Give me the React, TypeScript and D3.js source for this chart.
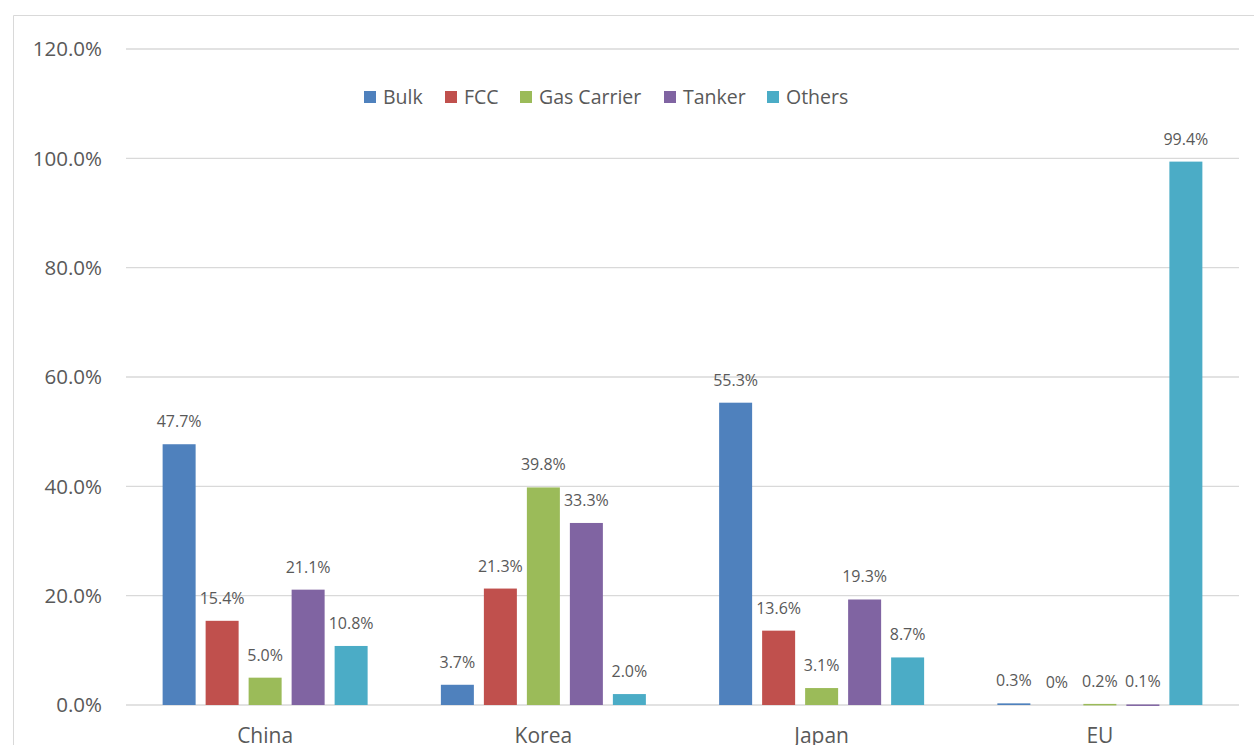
import React from "react";
import * as d3 from "d3";

const categories = ["China", "Korea", "Japan", "EU"];
const seriesNames = ["Bulk", "FCC", "Gas Carrier", "Tanker", "Others"];
const bulk = [47.7, 3.7, 55.3, 0.3];
const fcc = [15.4, 21.3, 13.6, 0];
const gasCarrier = [5.0, 39.8, 3.1, 0.2];
const tanker = [21.1, 33.3, 19.3, 0.1];
const others = [10.8, 2.0, 8.7, 99.4];
const seriesValues = [bulk, fcc, gasCarrier, tanker, others];
const colors = ["#4F81BD", "#C0504D", "#9BBB59", "#8064A2", "#4BACC6"];
const yTicks = [0, 20, 40, 60, 80, 100, 120];

const W = 1254;
const H = 745;
const FONT = "'Open Sans', 'Noto Sans', sans-serif";
const TEXT = "#595959";

export default function App() {
  const left = 126, right = 1239, top = 49, bottom = 705;
  const x = d3.scaleBand<string>().domain(categories).range([left, right]);
  const y = d3.scaleLinear().domain([0, 120]).range([bottom, top]);
  const bw = 33;
  const step = 43;
  const fmt = (v: number) => (v === 0 ? "0%" : v.toFixed(1) + "%");
  const legendX = [364, 445, 520, 664, 767];

  return (
    <svg width={W} height={H} style={{ position: "absolute", left: 0, top: 0, background: "#fff" }}>
      <line x1={13.5} y1={15.5} x2={W} y2={15.5} stroke="#d9d9d9" />
      <line x1={13.5} y1={15.5} x2={13.5} y2={H} stroke="#d9d9d9" />
      {yTicks.map((t) => (
        <g key={t}>
          <line x1={left} x2={right} y1={y(t)} y2={y(t)} stroke="#d9d9d9" strokeWidth={1.3} />
          <text x={102} y={y(t)} dy="0.36em" textAnchor="end" fontFamily={FONT} fontSize={20.5} fill={TEXT}>
            {t.toFixed(1) + "%"}
          </text>
        </g>
      ))}
      {categories.map((c, ci) => {
        const cx = (x(c) as number) + x.bandwidth() / 2;
        return (
          <g key={c}>
            {seriesValues.map((vals, si) => {
              const v = vals[ci];
              const bx = cx + (si - 2) * step - bw / 2;
              const h = bottom - y(v);
              return (
                <g key={si}>
                  <rect x={bx} y={y(v)} width={bw} height={Math.max(h, v > 0 ? 1.5 : 0)} fill={colors[si]} />
                  <text x={bx + bw / 2} y={y(v) - 17} textAnchor="middle" fontFamily={FONT} fontSize={16} fill={TEXT}>
                    {fmt(v)}
                  </text>
                </g>
              );
            })}
            <text x={cx} y={743} textAnchor="middle" fontFamily={FONT} fontSize={21} fill={TEXT}>
              {c}
            </text>
          </g>
        );
      })}
      {seriesNames.map((s, i) => (
        <g key={s}>
          <rect x={legendX[i]} y={91} width={12} height={12} fill={colors[i]} />
          <text x={legendX[i] + 19} y={97} dy="0.36em" fontFamily={FONT} fontSize={19.5} fill={TEXT}>
            {s}
          </text>
        </g>
      ))}
    </svg>
  );
}
